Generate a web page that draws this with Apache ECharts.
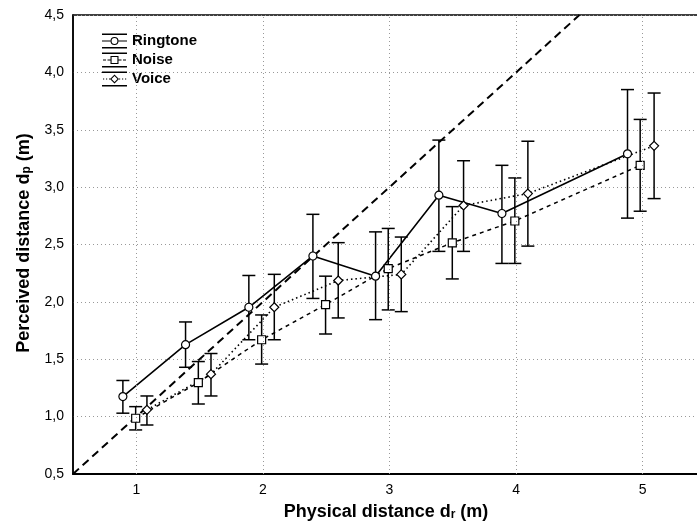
<!DOCTYPE html>
<html><head><meta charset="utf-8">
<script src="https://cdn.jsdelivr.net/npm/echarts@6/dist/echarts.min.js"></script>
<style>html,body{margin:0;padding:0;background:#fff}#c{width:697px;height:524px}</style>
</head><body><div id="c"></div>
<script>
// ---- data ----
const seriesNames = ['Ringtone', 'Noise', 'Voice'];

const ringX  = [0.894, 1.389, 1.889, 2.395, 2.890, 3.390, 3.888, 4.880];
const ringY  = [1.175, 1.627, 1.953, 2.400, 2.224, 2.930, 2.770, 3.290];
const ringHi = [1.315, 1.825, 2.230, 2.763, 2.610, 3.410, 3.190, 3.850];
const ringLo = [1.030, 1.430, 1.670, 2.030, 1.845, 2.440, 2.335, 2.730];

const noiseX  = [0.995, 1.490, 1.990, 2.495, 2.990, 3.496, 3.990, 4.980];
const noiseY  = [0.986, 1.297, 1.670, 1.976, 2.290, 2.515, 2.705, 3.190];
const noiseHi = [1.087, 1.480, 1.886, 2.224, 2.640, 2.830, 3.080, 3.590];
const noiseLo = [0.884, 1.110, 1.458, 1.720, 1.930, 2.200, 2.335, 2.790];

const voiceX  = [1.084, 1.590, 2.090, 2.595, 3.093, 3.585, 4.093, 5.090];
const voiceY  = [1.059, 1.370, 1.953, 2.186, 2.239, 2.840, 2.944, 3.360];
const voiceHi = [1.180, 1.550, 2.240, 2.516, 2.565, 3.230, 3.400, 3.820];
const voiceLo = [0.927, 1.180, 1.670, 1.860, 1.915, 2.440, 2.486, 2.900];

const refLineX = [0.5, 4.5];
const refLineY = [0.5, 4.5];

const xTickValues = [1, 2, 3, 4, 5];
const xAxisTitle = ['Physical distance d', 'r', ' (m)'];
const yAxisTitle = ['Perceived distance d', 'p', ' (m)'];

// ---- chart ----
const FONT = '"Liberation Sans", Arial, sans-serif';
const pts = (xs, ys) => xs.map((x, i) => [x, ys[i]]);
const bars = (xs, lo, hi) => xs.map((x, i) => [x, lo[i], hi[i]]);

function errRender(params, api) {
  const x = api.value(0), lo = api.value(1), hi = api.value(2);
  const a = api.coord([x, hi]), b = api.coord([x, lo]);
  const w = 6.5, st = { stroke: '#000', lineWidth: 1.5 };
  return { type: 'group', children: [
    { type: 'line', shape: { x1: a[0], y1: a[1], x2: b[0], y2: b[1] }, style: st },
    { type: 'line', shape: { x1: a[0] - w, y1: a[1], x2: a[0] + w, y2: a[1] }, style: st },
    { type: 'line', shape: { x1: b[0] - w, y1: b[1], x2: b[0] + w, y2: b[1] }, style: st }
  ]};
}

const caps = 'M0,0 H25 V1.4 H0 Z M0,13.6 H25 V15 H0 Z ';
const iconRing = 'path://' + caps + 'M0,7 H8.5 V8 H0 Z M16.5,7 H25 V8 H16.5 Z ' +
  'M16.5,7.5 A4,4 0 1,0 8.5,7.5 A4,4 0 1,0 16.5,7.5 Z M15.4,7.5 A2.9,2.9 0 1,1 9.6,7.5 A2.9,2.9 0 1,1 15.4,7.5 Z';
const iconNoise = 'path://' + caps + 'M1,7 H4 V8 H1 Z M5.5,7 H8.5 V8 H5.5 Z M16.5,7 H19.5 V8 H16.5 Z M21,7 H24 V8 H21 Z ' +
  'M8.5,3.5 H16.5 V11.5 H8.5 Z M9.6,4.6 V10.4 H15.4 V4.6 Z';
const iconVoice = 'path://' + caps + 'M1,7 H2.2 V8 H1 Z M4,7 H5.2 V8 H4 Z M7,7 H8.2 V8 H7 Z M17,7 H18.2 V8 H17 Z M20,7 H21.2 V8 H20 Z M23,7 H24.2 V8 H23 Z ' +
  'M12.5,3 L17,7.5 L12.5,12 L8,7.5 Z M12.5,4.5 L9.5,7.5 L12.5,10.5 L15.5,7.5 Z';

const markerStyle = { color: '#fff', borderColor: '#000', borderWidth: 1.2 };
const titleRich = {
  a: { fontFamily: FONT, fontWeight: 'bold', fontSize: 18, lineHeight: 22, fill: '#000', verticalAlign: 'bottom' },
  s: { fontFamily: FONT, fontWeight: 'bold', fontSize: 12, lineHeight: 12, fill: '#000', verticalAlign: 'bottom' }
};

const option = {
  animation: false,
  backgroundColor: '#fff',
  grid: { left: 73, width: 633, top: 15, bottom: 50, outerBoundsMode: 'none', containLabel: false,
          show: true, borderColor: '#000', borderWidth: 1.5 },
  xAxis: {
    type: 'value', min: 0.5, max: 5.5, interval: 0.5,
    axisLine: { show: true, lineStyle: { color: '#000', width: 2 } },
    axisTick: { show: false },
    splitLine: { show: false },
    axisLabel: {
      margin: 9, color: '#000', fontFamily: FONT, fontSize: 14,
      formatter: v => (xTickValues.indexOf(v) >= 0 ? String(v) : '')
    }
  },
  yAxis: {
    type: 'value', min: 0.5, max: 4.5, interval: 0.5,
    axisLine: { show: true, lineStyle: { color: '#000', width: 1.5 } },
    axisTick: { show: false },
    splitLine: { show: true, lineStyle: { color: '#999', type: [1, 3], width: 1 } },
    axisLabel: {
      margin: 9, color: '#000', fontFamily: FONT, fontSize: 14,
      formatter: v => v.toFixed(1).replace('.', ',')
    }
  },
  legend: {
    orient: 'vertical', left: 102, top: 33.5, padding: 0,
    itemWidth: 25, itemHeight: 15, itemGap: 4,
    textStyle: { fontFamily: FONT, fontWeight: 'bold', fontSize: 15, color: '#000' },
    data: [
      { name: seriesNames[0], icon: iconRing, itemStyle: { color: '#000', borderWidth: 0 } },
      { name: seriesNames[1], icon: iconNoise, itemStyle: { color: '#000', borderWidth: 0 } },
      { name: seriesNames[2], icon: iconVoice, itemStyle: { color: '#000', borderWidth: 0 } }
    ]
  },
  graphic: [
    { type: 'text', x: 386, y: 510, style: {
        text: '{a|' + xAxisTitle[0] + '}{s|' + xAxisTitle[1] + '}{a|' + xAxisTitle[2] + '}',
        align: 'center', verticalAlign: 'middle', rich: titleRich } },
    { type: 'text', x: 22, y: 243, rotation: Math.PI / 2, style: {
        text: '{a|' + yAxisTitle[0] + '}{s|' + yAxisTitle[1] + '}{a|' + yAxisTitle[2] + '}',
        align: 'center', verticalAlign: 'middle', rich: titleRich } }
  ],
  series: [
    { name: 'identity', type: 'line', data: pts(refLineX, refLineY), symbol: 'none', z: 1,
      lineStyle: { color: '#000', width: 2, type: [8, 5] }, silent: true,
      markLine: { silent: true, symbol: 'none', label: { show: false },
        lineStyle: { color: '#999', type: [1, 3], width: 1 },
        data: xTickValues.map(v => ({ xAxis: v })) } },
    { name: 'Ringtone bars', type: 'custom', renderItem: errRender, data: bars(ringX, ringLo, ringHi), encode: { x: 0, y: [1, 2] }, z: 2 },
    { name: 'Noise bars', type: 'custom', renderItem: errRender, data: bars(noiseX, noiseLo, noiseHi), encode: { x: 0, y: [1, 2] }, z: 2 },
    { name: 'Voice bars', type: 'custom', renderItem: errRender, data: bars(voiceX, voiceLo, voiceHi), encode: { x: 0, y: [1, 2] }, z: 2 },
    { name: seriesNames[0], type: 'line', data: pts(ringX, ringY), symbol: 'circle', symbolSize: 8, z: 3,
      itemStyle: markerStyle, lineStyle: { color: '#000', width: 1.6, type: 'solid' } },
    { name: seriesNames[1], type: 'line', data: pts(noiseX, noiseY), symbol: 'rect', symbolSize: 8, z: 3,
      itemStyle: markerStyle, lineStyle: { color: '#000', width: 1.5, type: [4, 4] } },
    { name: seriesNames[2], type: 'line', data: pts(voiceX, voiceY), symbol: 'diamond', symbolSize: 9, z: 3,
      itemStyle: markerStyle, lineStyle: { color: '#000', width: 1.6, type: [1.5, 3] } }
  ]
};
const chart = echarts.init(document.getElementById('c'), null, { renderer: 'canvas' });
chart.setOption(option);
</script>
</body></html>
